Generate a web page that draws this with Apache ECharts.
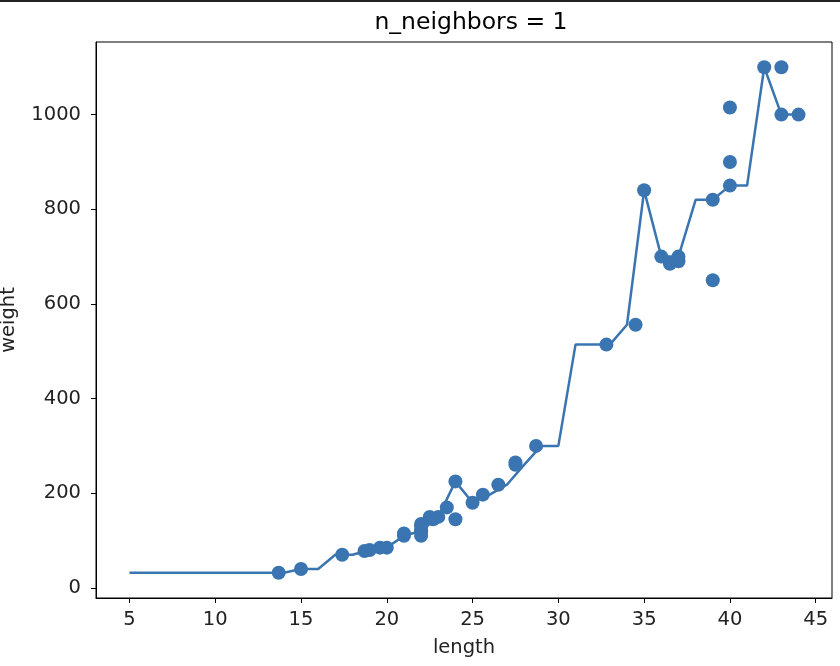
<!DOCTYPE html>
<html>
<head>
<meta charset="utf-8">
<script src="https://cdn.jsdelivr.net/npm/echarts@6/dist/echarts.min.js"></script>
<style>html,body{margin:0;padding:0;background:#fff;}#c{width:840px;height:666px;}</style>
</head>
<body>
<div id="c"></div>
<script>
// training points (length, weight)
const trainLength = [13.7, 15.0, 17.4, 18.7, 19.0, 19.6, 20.0, 21.0, 21.0, 22.0, 22.0, 22.0, 22.0, 22.0, 22.5, 22.7, 23.0, 23.5, 24.0, 24.0, 25.0, 25.6, 26.5, 27.5, 27.5, 28.7, 32.8, 34.5, 35.0, 36.5, 36.0, 37.0, 37.0, 39.0, 39.0, 40.0, 40.0, 40.0, 42.0, 43.0, 43.0, 44.0];
const trainWeight = [32, 40, 70, 78, 80, 85, 85, 110, 115, 120, 120, 130, 135, 110, 150, 145, 150, 170, 225, 145, 180, 197, 218, 260, 265, 300, 514, 556, 840, 685, 700, 700, 690, 650, 820, 850, 900, 1015, 1100, 1000, 1100, 1000];
// prediction line at x = 5..44
const predX = [5,6,7,8,9,10,11,12,13,14,15,16,17,18,19,20,21,22,23,24,25,26,27,28,29,30,31,32,33,34,35,36,37,38,39,40,41,42,43,44];
const predY = [32,32,32,32,32,32,32,32,32,32,40,40,70,70,80,85,110,120,150,225,180,197,218,260,300,300,514,514,514,556,840,700,700,820,820,850,850,1100,1000,1000];
const xTicks = [5,10,15,20,25,30,35,40,45];
const yTicks = [0,200,400,600,800,1000];

const C = '#3a75b1';
const font = 'DejaVu Sans';
const chart = echarts.init(document.getElementById('c'));
chart.setOption({
  animation: false,
  backgroundColor: '#fff',
  title: {
    text: 'n_neighbors = 1', left: 466, top: 6, textAlign: 'center',
    textStyle: {fontFamily: font, fontSize: 23.5, fontWeight: 'normal', color: '#000'}
  },
  graphic: [{type: 'rect', shape: {x: 0, y: 0, width: 840, height: 2}, style: {fill: '#222'}}],
  grid: {left: 96, right: 8, top: 42, bottom: 68, containLabel: false, outerBoundsMode: 'none',
         show: true, borderColor: '#000', borderWidth: 1, backgroundColor: '#fff'},
  xAxis: {
    type: 'value', min: 3.05, max: 45.95,
    name: 'length', nameLocation: 'middle', nameGap: 40,
    nameTextStyle: {fontFamily: font, fontSize: 19.5, color: '#222'},
    axisLine: {show: true, onZero: false, lineStyle: {color: '#000'}},
    axisTick: {show: true, length: 5, lineStyle: {color: '#000'}, customValues: xTicks},
    axisLabel: {fontFamily: font, fontSize: 19.5, color: '#222', margin: 12, customValues: xTicks},
    splitLine: {show: false}
  },
  yAxis: {
    type: 'value', min: -21.4, max: 1153.4,
    name: 'weight', nameLocation: 'middle', nameGap: 77, nameRotate: 90,
    nameTextStyle: {fontFamily: font, fontSize: 19.5, color: '#222'},
    axisLine: {show: true, onZero: false, lineStyle: {color: '#000'}},
    axisTick: {show: true, length: 5, lineStyle: {color: '#000'}, customValues: yTicks},
    axisLabel: {fontFamily: font, fontSize: 19.5, color: '#222', margin: 15, customValues: yTicks,
                formatter: v => String(v)},
    splitLine: {show: false}
  },
  series: [
    {
      type: 'scatter', symbolSize: 14,
      itemStyle: {color: C, opacity: 1},
      data: trainLength.map((v, i) => [v, trainWeight[i]]), z: 2
    },
    {
      type: 'line', showSymbol: false, symbol: 'none',
      lineStyle: {color: C, width: 2.5},
      data: predX.map((v, i) => [v, predY[i]]), z: 3
    }
  ]
});
</script>
</body>
</html>
